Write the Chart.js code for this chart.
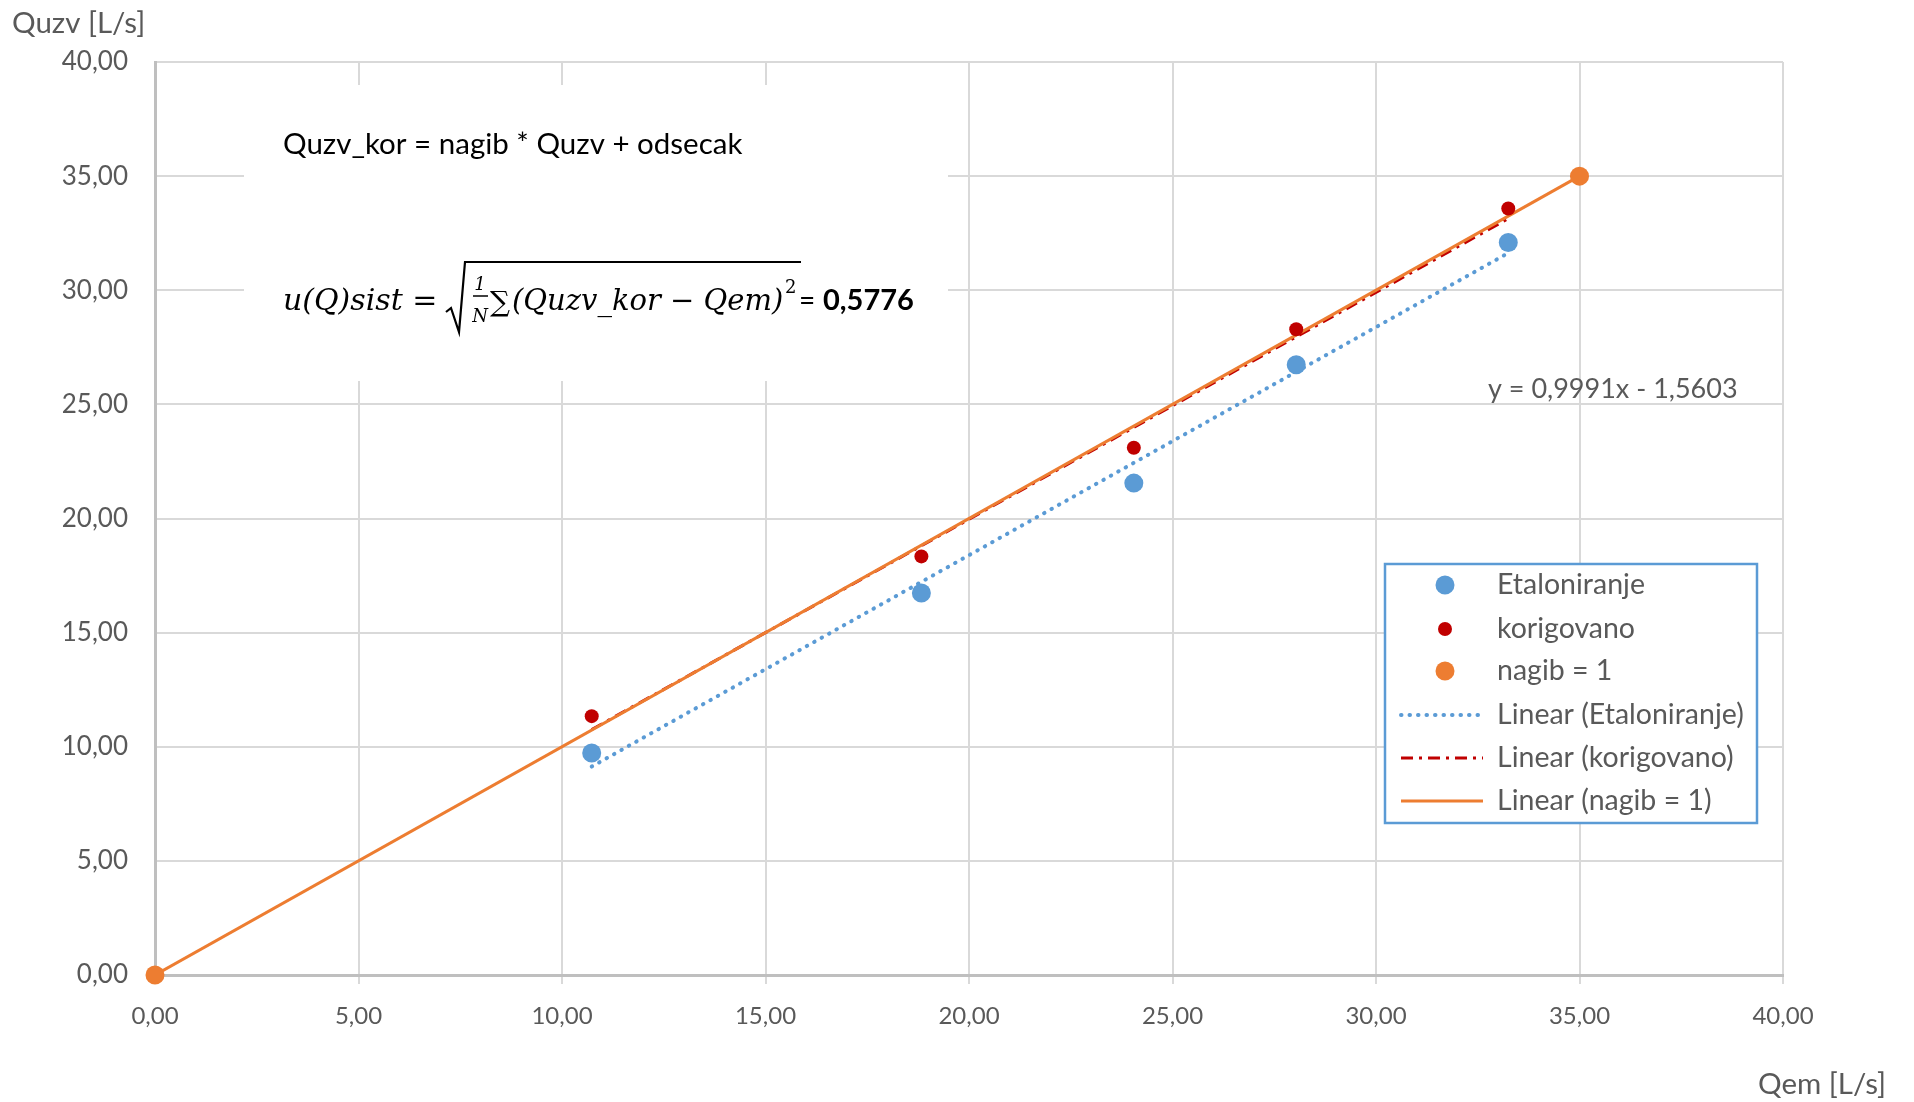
<!DOCTYPE html>
<html>
<head>
<meta charset="utf-8">
<script src="https://cdn.jsdelivr.net/npm/chart.js@4.4.1/dist/chart.umd.min.js"></script>
<style>
  html, body { margin: 0; padding: 0; background: #ffffff; }
  #wrap { width: 1914px; height: 1102px; position: relative; }
</style>
</head>
<body>
<div id="wrap"><canvas id="c" width="1914" height="1102"></canvas></div>
<script>
// ---- Data ----
const qemPoints = [10.73, 18.83, 24.05, 28.04, 33.25];        // Qem [L/s]
const etaloniranje = [9.73, 16.74, 21.55, 26.74, 32.09];      // Quzv [L/s]
const korigovano = [11.34, 18.34, 23.10, 28.29, 33.58];       // Quzv_kor [L/s]
const nagibX = [0, 35];
const nagibY = [0, 35];
const seriesNames = ['Etaloniranje', 'korigovano', 'nagib = 1'];
const axisTicks = [0, 5, 10, 15, 20, 25, 30, 35, 40];
const trendLabel = 'y = 0,9991x - 1,5603';
const usistValue = '0,5776';

const FONT = 'Lato, "Open Sans", sans-serif';
const GRAY = '#595959';
const BLUE = '#5B9BD5', RED = '#C00000', ORANGE = '#ED7D31';

function pts(xs, ys) { return xs.map((x, i) => ({ x: x, y: ys[i] })); }
function trend(xs, ys) {
  const n = xs.length;
  const mx = xs.reduce((a, b) => a + b, 0) / n;
  const my = ys.reduce((a, b) => a + b, 0) / n;
  let sxy = 0, sxx = 0;
  for (let i = 0; i < n; i++) { sxy += (xs[i] - mx) * (ys[i] - my); sxx += (xs[i] - mx) ** 2; }
  const a = sxy / sxx, b = my - a * mx;
  const x0 = Math.min(...xs), x1 = Math.max(...xs);
  return [{ x: x0, y: a * x0 + b }, { x: x1, y: a * x1 + b }];
}
const fmt = v => Number(v).toFixed(2).replace('.', ',');

const overlay = {
  id: 'overlay',
  beforeDatasetsDraw(chart) {
    const ctx = chart.ctx;
    ctx.save();
    ctx.fillStyle = '#ffffff';
    ctx.fillRect(244, 85, 704, 296);
    ctx.restore();
  },
  afterDraw(chart) {
    const ctx = chart.ctx;
    ctx.save();
    ctx.textBaseline = 'middle';
    // axis titles
    ctx.fillStyle = GRAY;
    ctx.font = '29.5px ' + FONT;
    ctx.textAlign = 'left';
    ctx.fillText('Quzv [L/s]', 12, 23);
    ctx.fillText('Qem [L/s]', 1758, 1084);
    // trendline equation
    ctx.font = '27px ' + FONT;
    ctx.fillText(trendLabel, 1488, 389);

    // formula text box
    ctx.fillStyle = '#000000';
    ctx.font = '29.5px ' + FONT;
    ctx.fillText('Quzv_kor = nagib * Quzv + odsecak', 283, 144);

    const SERIF = '"DejaVu Serif", "Liberation Serif", serif';
    ctx.textBaseline = 'alphabetic';
    ctx.font = 'italic 30px ' + SERIF;
    ctx.fillText('u(Q)sist =', 283, 310);
    // radical
    ctx.strokeStyle = '#000000';
    ctx.lineWidth = 2.2;
    ctx.beginPath();
    ctx.moveTo(446, 312);
    ctx.lineTo(451, 308);
    ctx.lineTo(459, 332);
    ctx.lineTo(465, 262);
    ctx.lineTo(801, 262);
    ctx.stroke();
    // fraction 1/N
    ctx.font = 'italic 18px ' + SERIF;
    ctx.textAlign = 'center';
    ctx.fillText('1', 480, 290);
    ctx.fillText('N', 480, 322);
    ctx.lineWidth = 1.5;
    ctx.beginPath(); ctx.moveTo(473, 296); ctx.lineTo(488, 296); ctx.stroke();
    ctx.textAlign = 'left';
    ctx.font = '28px ' + SERIF;
    ctx.fillText('\u2211', 490, 311);
    ctx.font = 'italic 29px ' + SERIF;
    ctx.fillText('(Quzv_kor \u2212 Qem)', 512, 310);
    ctx.font = '18px ' + SERIF;
    ctx.fillText('2', 785, 293);
    ctx.font = '28px ' + FONT;
    ctx.fillText('=', 799, 310);
    ctx.font = 'bold 29px ' + FONT;
    ctx.fillText(usistValue, 823, 310);

    // legend
    const lx = 1385, ly = 564, lw = 372, lh = 259;
    ctx.fillStyle = '#ffffff';
    ctx.fillRect(lx, ly, lw, lh);
    ctx.strokeStyle = BLUE;
    ctx.lineWidth = 2.5;
    ctx.strokeRect(lx, ly, lw, lh);
    const rows = [585, 629, 671, 715, 758, 801];
    const ds = chart.data.datasets;
    ctx.textBaseline = 'middle';
    ctx.font = '28.5px ' + FONT;
    const order = [0, 1, 2, 5, 4, 3];
    order.forEach((di, r) => {
      const d = ds[di];
      const y = rows[r];
      if (d.showLine === false) {
        ctx.fillStyle = d.backgroundColor;
        ctx.beginPath();
        ctx.arc(1445, y, d.pointRadius, 0, Math.PI * 2);
        ctx.fill();
      } else {
        ctx.strokeStyle = d.borderColor;
        ctx.lineWidth = d.borderWidth;
        ctx.lineCap = d.borderCapStyle || 'butt';
        ctx.setLineDash(d.borderDash || []);
        ctx.beginPath();
        ctx.moveTo(1401, y);
        ctx.lineTo(1483, y);
        ctx.stroke();
        ctx.setLineDash([]);
        ctx.lineCap = 'butt';
      }
      ctx.fillStyle = GRAY;
      ctx.textAlign = 'left';
      ctx.fillText(d.label, 1497, y);
    });
    ctx.restore();
  }
};

new Chart(document.getElementById('c'), {
  type: 'scatter',
  data: {
    datasets: [
      { label: seriesNames[0], data: pts(qemPoints, etaloniranje), showLine: false,
        backgroundColor: BLUE, borderColor: BLUE, pointRadius: 9.5, pointBorderWidth: 0, order: 0, clip: false },
      { label: seriesNames[1], data: pts(qemPoints, korigovano), showLine: false,
        backgroundColor: RED, borderColor: RED, pointRadius: 7, pointBorderWidth: 0, order: 1, clip: false },
      { label: seriesNames[2], data: pts(nagibX, nagibY), showLine: false,
        backgroundColor: ORANGE, borderColor: ORANGE, pointRadius: 9.5, pointBorderWidth: 0, order: 2, clip: false },
      { type: 'line', label: 'Linear (' + seriesNames[2] + ')', data: trend(nagibX, nagibY),
        borderColor: ORANGE, borderWidth: 3, pointRadius: 0, fill: false, order: 3 },
      { type: 'line', label: 'Linear (' + seriesNames[1] + ')', data: trend(qemPoints, korigovano),
        borderColor: RED, borderWidth: 3, borderDash: [12, 6, 3, 6], pointRadius: 0, fill: false, order: 4 },
      { type: 'line', label: 'Linear (' + seriesNames[0] + ')', data: trend(qemPoints, etaloniranje),
        borderColor: BLUE, borderWidth: 4, borderDash: [0.5, 8], borderCapStyle: 'round',
        pointRadius: 0, fill: false, order: 5 }
    ]
  },
  options: {
    responsive: false,
    animation: false,
    devicePixelRatio: 1,
    layout: { padding: { top: 62, right: 131, bottom: 0, left: 0 } },
    plugins: { legend: { display: false }, tooltip: { enabled: false }, title: { display: false } },
    scales: {
      x: {
        type: 'linear', min: 0, max: 40,
        afterBuildTicks(scale) { scale.ticks = axisTicks.map(v => ({ value: v })); },
        afterFit(scale) { scale.height = 127; },
        grid: { color: '#D9D9D9', lineWidth: 2, drawTicks: true, tickLength: 9 },
        border: { color: '#BFBFBF', width: 3 },
        ticks: { color: GRAY, font: { family: FONT, size: 24 }, padding: 18, maxRotation: 0,
                 callback: v => fmt(v) }
      },
      y: {
        type: 'linear', min: 0, max: 40,
        afterBuildTicks(scale) { scale.ticks = axisTicks.map(v => ({ value: v })); },
        afterFit(scale) { scale.width = 155; },
        grid: { color: '#D9D9D9', lineWidth: 2, drawTicks: false },
        border: { color: '#BFBFBF', width: 3 },
        ticks: { color: GRAY, font: { family: FONT, size: 26 }, padding: 27,
                 callback: v => fmt(v) }
      }
    }
  },
  plugins: [overlay]
});
</script>
</body>
</html>
